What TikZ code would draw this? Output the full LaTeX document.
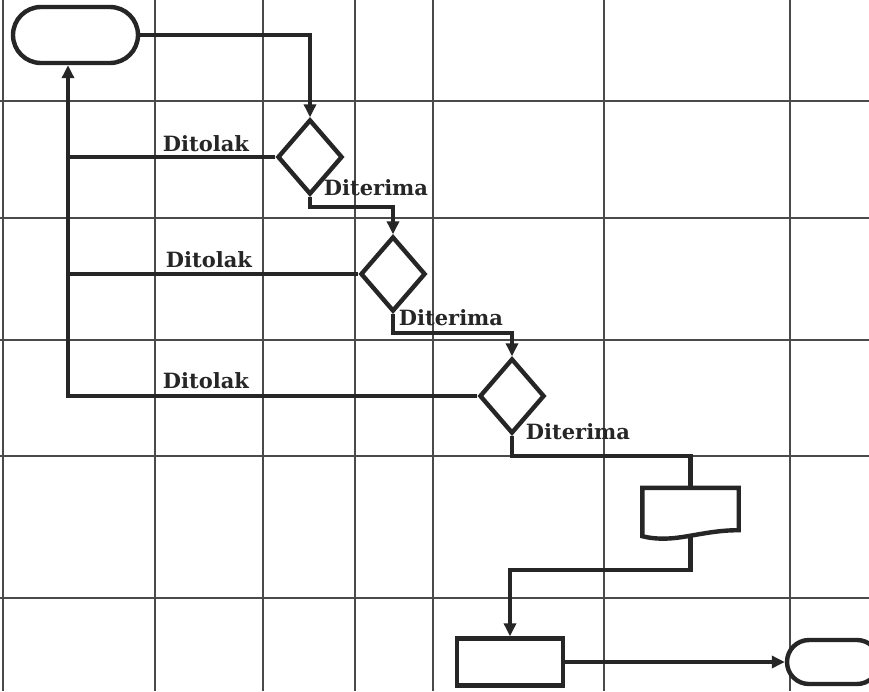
\documentclass[tikz,border=0pt]{standalone}
\usepackage{fontspec}
\newfontfamily\lblfont{DejaVu Serif}
\usetikzlibrary{shapes.geometric,shapes.misc,arrows.meta}
\definecolor{ink}{HTML}{262626}
\definecolor{gridc}{HTML}{4A4A4A}
\begin{document}
\begin{tikzpicture}[x=1pt,y=-1pt,
  flow/.style={line width=4.4pt,draw=ink,line join=miter},
  arr/.style={flow,-{Triangle[length=13pt,width=12pt]}},
  term/.style={rounded rectangle,flow,inner sep=0pt},
  dec/.style={diamond,flow,inner sep=0pt,minimum width=65pt,minimum height=75pt},
  box/.style={rectangle,flow,inner sep=0pt},
  lbl/.style={font=\lblfont\fontsize{21}{24}\selectfont\bfseries,text=ink,inner sep=0pt},
  gridline/.style={line width=1.1pt,draw=gridc}]
\useasboundingbox (0,0) rectangle (869,691);
\clip (0,0) rectangle (869,691);
\fill[white] (0,0) rectangle (869,691);
% grid
\foreach \gx in {3,155,263,355,433,604,790} \draw[gridline] (\gx,0) -- (\gx,691);
\foreach \gy in {101,218,340,456,598} \draw[gridline] (0,\gy) -- (869,\gy);
% nodes
\node[term,minimum width=125pt,minimum height=56pt,fill=white] (start) at (75.5,35) {};
\node[dec,fill=white] (d1) at (310,157) {};
\node[dec,fill=white] (d2) at (393,274) {};
\node[dec,fill=white] (d3) at (512,396) {};
\node[rectangle,minimum width=96pt,minimum height=48pt,inner sep=0pt] (doc) at (690.5,512) {};
\node[box,minimum width=106pt,minimum height=47pt,fill=white] (proc) at (510,662) {};
\node[term,minimum width=92pt,minimum height=44pt,fill=white] (end) at (833,662) {};
\coordinate (corner) at (68,396);
% document outline
\draw[flow,fill=white] (doc.south west) -- (doc.north west) -- (doc.north east) -- ([yshift=6pt]doc.south east)
  .. controls ([xshift=-40pt,yshift=6pt]doc.south east) and ([xshift=-64pt,yshift=-8pt]doc.south east) .. (doc.south west) -- cycle;
% connectors
\draw[arr] (start.east) -| (d1.north);
\draw[arr] (d1.south) -- ++(0,10) -| (d2.north);
\draw[arr] (d2.south) -- ++(0,19) -| (d3.north);
\draw[flow] (d3.south) -- ++(0,20) -| (doc.north);
\draw[arr] (doc.south) -- ++(0,34) -| (proc.north);
\draw[arr] (proc.east) -- (end.west);
\draw[flow] (d1.west) -- (d1.west -| corner);
\draw[flow] (d2.west) -- (d2.west -| corner);
\draw[arr] (d3.west) -- (corner) -- (corner |- start.south);
% labels
\node[lbl] (l1) at (206,144) {Ditolak};
\node[lbl] (l2) at (209,260) {Ditolak};
\node[lbl] (l3) at (206,381) {Ditolak};
\node[lbl] (r1) at (376,188) {Diterima};
\node[lbl] (r2) at (451,318) {Diterima};
\node[lbl] (r3) at (578,432) {Diterima};
\end{tikzpicture}
\end{document}
